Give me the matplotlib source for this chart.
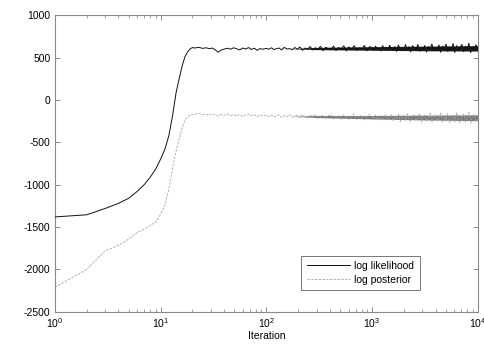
import matplotlib
matplotlib.use("Agg")
import matplotlib.pyplot as plt
import numpy as np

plt.rcParams['font.family'] = ['Liberation Sans', 'DejaVu Sans']
plt.rcParams['mathtext.default'] = 'regular'
plt.rcParams['font.size'] = 7.5
plt.rcParams['axes.unicode_minus'] = False

# ---- data ----
iters_rise = [1, 2, 3, 4, 5, 6, 7, 8, 9, 10, 11, 12, 13, 14, 15, 16, 17, 18, 19, 20]
lik_rise = [-1380, -1355, -1280, -1220, -1160, -1080, -1000, -910, -815, -700,
            -580, -420, -185, 80, 250, 400, 508, 565, 600, 618]
post_rise = [-2210, -2000, -1780, -1715, -1640, -1565, -1525, -1480, -1440, -1350,
             -1240, -1050, -800, -610, -460, -330, -240, -200, -180, -172]

iters_a = [21, 23, 25, 27, 29, 31, 33, 35, 37, 40, 43, 46, 49, 52, 56, 60, 64, 68, 72,
           77, 82, 87, 93]
lik_a = [612, 620, 608, 615, 604, 612, 590, 562, 585, 600, 610, 598, 615, 605, 590,
         612, 600, 618, 595, 610, 585, 605, 598]
post_a = [-168, -160, -175, -170, -182, -165, -178, -190, -172, -180, -168, -185, -175,
          -190, -172, -195, -178, -165, -188, -175, -200, -180, -190]

iters_b = [100, 106, 112, 118, 125, 132, 140, 148, 157, 166, 176, 186, 197, 208, 220,
           233, 246, 260, 275, 291, 308, 326, 345, 365, 386, 408, 432, 457, 483, 511,
           541, 572, 605, 640, 677, 716, 757, 801, 847, 896, 948]
lik_b = [608, 598, 615, 594, 605, 612, 590, 620, 600, 606, 592, 618, 598, 625, 585,
         612, 600, 630, 588, 615, 595, 632, 580, 620, 605, 590, 635, 582, 618, 600,
         638, 578, 625, 592, 640, 585, 615, 600, 642, 580, 628]
post_b = [-182, -195, -178, -200, -188, -176, -205, -185, -198, -172, -208, -190, -180,
          -212, -175, -200, -215, -182, -192, -170, -218, -195, -178, -222, -188, -170,
          -225, -200, -182, -228, -175, -205, -230, -185, -168, -232, -198, -180, -235,
          -190, -172]

iters_c = [1000, 1039, 1080, 1122, 1166, 1212, 1259, 1308, 1359, 1413, 1468, 1525, 1585,
           1647, 1711, 1778, 1848, 1920, 1995, 2073, 2154, 2239, 2326, 2417, 2512, 2610,
           2712, 2818, 2929, 3043, 3162, 3286, 3415, 3548, 3687, 3831, 3981, 4137, 4299,
           4467, 4642, 4824, 5012, 5208, 5412, 5623, 5843, 6072, 6310, 6556, 6813, 7079,
           7356, 7644, 7943, 8254, 8577, 8913, 9261, 9624, 10000]
lik_c = [618, 585, 635, 596, 612, 578, 640, 600, 622, 583, 645, 605, 590, 630, 572, 648,
         598, 615, 580, 652, 592, 628, 566, 640, 608, 585, 655, 575, 620, 598, 642, 565,
         630, 600, 660, 578, 612, 590, 648, 562, 635, 605, 658, 572, 620, 595, 665, 560,
         640, 585, 612, 655, 570, 632, 598, 668, 558, 625, 600, 650, 590]
post_c = [-195, -228, -178, -240, -205, -185, -245, -200, -175, -235, -212, -168, -250,
          -190, -222, -172, -255, -205, -182, -240, -165, -228, -258, -190, -170, -245,
          -210, -160, -262, -198, -178, -250, -215, -158, -265, -200, -175, -248, -222,
          -155, -268, -190, -240, -162, -270, -205, -180, -258, -150, -230, -272, -185,
          -165, -260, -210, -148, -275, -195, -170, -262, -200]

# dense-band envelope of the many overlapping iterations
band_iters = [170, 300, 1000, 3000, 10000]
lik_band_lo = [605, 593, 586, 580, 576]
lik_band_hi = [605, 620, 628, 634, 640]
post_band_lo = [-192, -208, -224, -236, -245]
post_band_hi = [-192, -184, -184, -180, -176]

labels = ["log likelihood", "log posterior"]

iters = iters_rise + iters_a + iters_b + iters_c
lik = lik_rise + lik_a + lik_b + lik_c
post = post_rise + post_a + post_b + post_c

# ---- figure ----
fig = plt.figure(figsize=(4.85, 3.52), dpi=100)
ax = fig.add_axes([0.113, 0.114, 0.872, 0.843])

ax.fill_between(band_iters, post_band_lo, post_band_hi, color='#7a7a7a', lw=0, zorder=1)
ax.fill_between(band_iters, lik_band_lo, lik_band_hi, color='#1a1a1a', lw=0, zorder=1)
ax.plot(iters, lik, color='#111111', lw=0.7, label=labels[0], zorder=3)
ax.plot(iters, post, color='#a8a8a8', lw=0.6, dashes=(3, 1.5), label=labels[1], zorder=2)

ax.set_xscale('log')
ax.set_xlim(1, 10000)
ax.set_ylim(-2500, 1000)
ax.set_yticks(np.arange(-2500, 1001, 500))
ax.set_xlabel('Iteration', labelpad=1)

for s in ax.spines.values():
    s.set_color('#8a8a8a')
    s.set_linewidth(0.8)
ax.tick_params(which='both', direction='in', top=True, right=True, color='#7a7a7a',
               labelcolor='black', labelsize=7.5)
ax.tick_params(which='major', length=3.5, width=0.6, pad=3)
ax.tick_params(which='minor', length=2, width=0.5)

leg = ax.legend(loc='lower right', bbox_to_anchor=(0.875, 0.055), frameon=True,
                fancybox=False, edgecolor='#555555', handlelength=4.2,
                borderpad=0.5, labelspacing=0.4, handletextpad=0.4, fontsize=7.5)
leg.get_frame().set_linewidth(0.7)

fig.savefig('out.png', dpi=100)
